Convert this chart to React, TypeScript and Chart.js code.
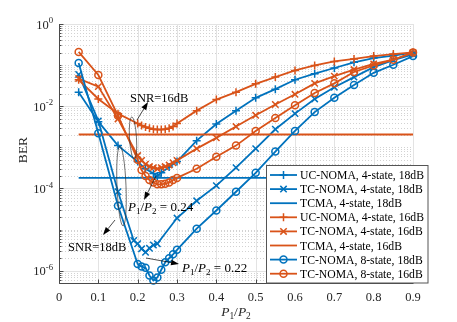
import React, { useEffect, useRef } from 'react';
import { Chart, registerables } from 'chart.js';

Chart.register(...registerables);

// ---------------- data ----------------
const xTickValues = [0, 0.1, 0.2, 0.3, 0.4, 0.5, 0.6, 0.7, 0.8, 0.9];
const yLabelExponents = [0, -2, -4, -6];

const xUC18 = [0.05, 0.1, 0.15, 0.2, 0.22, 0.24, 0.25, 0.26, 0.28, 0.3, 0.35, 0.4, 0.45, 0.5, 0.55, 0.6, 0.65, 0.7, 0.75, 0.8, 0.85, 0.9];
const berUC18 = [2.2e-2, 4.2e-3, 1.1e-3, 4.5e-4, 3.0e-4, 2.3e-4, 2.0e-4, 2.4e-4, 3.3e-4, 4.5e-4, 1.45e-3, 3.7e-3, 7.8e-3, 1.6e-2, 2.6e-2, 4.4e-2, 6.2e-2, 8.5e-2, 0.117, 0.148, 0.17, 0.2];

const xTC18 = [0.05, 0.1, 0.15, 0.19, 0.2, 0.21, 0.22, 0.23, 0.24, 0.25, 0.3, 0.35, 0.4, 0.45, 0.5, 0.55, 0.6, 0.65, 0.7, 0.75, 0.8, 0.85, 0.9];
const berTC18 = [5.9e-2, 4.4e-3, 8.3e-5, 5.4e-6, 4.5e-6, 3.4e-6, 2.8e-6, 3.5e-6, 4.2e-6, 4.5e-6, 1.9e-5, 5.0e-5, 1.17e-4, 3.2e-4, 9.3e-4, 2.75e-3, 6.6e-3, 1.5e-2, 2.9e-2, 5.1e-2, 8.9e-2, 0.132, 0.182];

const xTCMA = [0.05, 0.9];
const berTCMA18 = [1.8e-4, 1.8e-4];
const berTCMA16 = [2.05e-3, 2.05e-3];

const x16 = [0.05, 0.1, 0.15, 0.2, 0.21, 0.22, 0.23, 0.24, 0.25, 0.26, 0.27, 0.28, 0.29, 0.3, 0.35, 0.4, 0.45, 0.5, 0.55, 0.6, 0.65, 0.7, 0.75, 0.8, 0.85, 0.9];
const berUC16 = [4.4e-2, 1.5e-2, 6.6e-3, 3.8e-3, 3.4e-3, 3.1e-3, 2.9e-3, 2.75e-3, 2.7e-3, 2.7e-3, 2.75e-3, 2.9e-3, 3.2e-3, 3.8e-3, 7.8e-3, 1.45e-2, 2.2e-2, 3.5e-2, 5.1e-2, 7.4e-2, 9.8e-2, 0.123, 0.141, 0.166, 0.186, 0.204];
const berTC16 = [4.7e-2, 3.0e-2, 4.9e-3, 6.3e-4, 4.8e-4, 3.9e-4, 3.4e-4, 3.2e-4, 3.0e-4, 3.2e-4, 3.4e-4, 3.7e-4, 4.2e-4, 4.8e-4, 9.3e-4, 1.7e-3, 3.2e-3, 6.0e-3, 1.1e-2, 1.95e-2, 3.6e-2, 5.4e-2, 7.8e-2, 0.107, 0.135, 0.2];
const berTC8s16 = [0.209, 5.75e-2, 5.9e-3, 5.0e-4, 2.8e-4, 2.0e-4, 1.6e-4, 1.4e-4, 1.26e-4, 1.26e-4, 1.3e-4, 1.4e-4, 1.6e-4, 1.8e-4, 3.0e-4, 5.9e-4, 1.1e-3, 2.5e-3, 5.2e-3, 1.05e-2, 2.1e-2, 3.6e-2, 6.8e-2, 9.8e-2, 0.135, 0.204];

const x8s18 = [0.05, 0.1, 0.15, 0.2, 0.21, 0.22, 0.23, 0.24, 0.25, 0.26, 0.27, 0.28, 0.29, 0.3, 0.35, 0.4, 0.45, 0.5, 0.55, 0.6, 0.65, 0.7, 0.75, 0.8, 0.85, 0.9];
const berTC8s18 = [0.112, 2.2e-3, 3.8e-5, 1.45e-6, 1.26e-6, 1.17e-6, 7.6e-7, 5.75e-7, 6.8e-7, 1.05e-6, 1.6e-6, 2.0e-6, 2.5e-6, 3.2e-6, 1.05e-5, 2.9e-5, 8.3e-5, 2.4e-4, 7.9e-4, 2.5e-3, 7.2e-3, 1.6e-2, 3.3e-2, 6.5e-2, 0.102, 0.166];

const seriesLabels = [
  'UC-NOMA, 4-state, 18dB',
  'TC-NOMA, 4-state, 18dB',
  'TCMA, 4-state, 18dB',
  'UC-NOMA, 4-state, 16dB',
  'TC-NOMA, 4-state, 16dB',
  'TCMA, 4-state, 16dB',
  'TC-NOMA, 8-state, 18dB',
  'TC-NOMA, 8-state, 16dB',
];

// ---------------- styling ----------------
const BLUE = '#0072BD';
const ORANGE = '#D95319';
const FONT = '"Liberation Serif", "Times New Roman", Times, serif';
const TEXT = '#262626';
const Y_MIN = 5e-7;
const Y_MAX = 1;

type Part = { t: string; italic?: boolean; sub?: boolean; sup?: boolean };

function drawParts(ctx: CanvasRenderingContext2D, parts: Part[], x: number, y: number, size: number, align: 'left' | 'center' | 'right', color = TEXT) {
  const items = parts.map((p) => {
    const fs = p.sub || p.sup ? size * 0.7 : size;
    const font = `${p.italic ? 'italic ' : ''}${fs}px ${FONT}`;
    ctx.font = font;
    return { ...p, font, w: ctx.measureText(p.t).width };
  });
  const total = items.reduce((s, i) => s + i.w, 0);
  let cx = align === 'center' ? x - total / 2 : align === 'right' ? x - total : x;
  ctx.save();
  ctx.fillStyle = color;
  ctx.textAlign = 'left';
  ctx.textBaseline = 'alphabetic';
  for (const it of items) {
    ctx.font = it.font;
    const dy = it.sub ? size * 0.25 : it.sup ? -size * 0.42 : 0;
    ctx.fillText(it.t, cx, y + dy);
    cx += it.w;
  }
  ctx.restore();
}

function drawMarker(ctx: CanvasRenderingContext2D, style: string, x: number, y: number, color: string) {
  ctx.save();
  ctx.strokeStyle = color;
  ctx.lineWidth = 1.5;
  ctx.beginPath();
  if (style === 'cross') {
    ctx.moveTo(x - 4, y); ctx.lineTo(x + 4, y);
    ctx.moveTo(x, y - 4); ctx.lineTo(x, y + 4);
  } else if (style === 'crossRot') {
    const r = 3.2;
    ctx.moveTo(x - r, y - r); ctx.lineTo(x + r, y + r);
    ctx.moveTo(x - r, y + r); ctx.lineTo(x + r, y - r);
  } else if (style === 'circle') {
    ctx.arc(x, y, 3.5, 0, Math.PI * 2);
  }
  ctx.stroke();
  ctx.restore();
}

function arrow(ctx: CanvasRenderingContext2D, x1: number, y1: number, x2: number, y2: number) {
  const ang = Math.atan2(y2 - y1, x2 - x1);
  const L = 8, W = 2.8;
  const bx = x2 - L * Math.cos(ang), by = y2 - L * Math.sin(ang);
  ctx.save();
  ctx.strokeStyle = '#000';
  ctx.fillStyle = '#000';
  ctx.lineWidth = 0.7;
  ctx.beginPath();
  ctx.moveTo(x1, y1); ctx.lineTo(bx, by);
  ctx.stroke();
  ctx.beginPath();
  ctx.moveTo(x2, y2);
  ctx.lineTo(bx - W * Math.sin(ang), by + W * Math.cos(ang));
  ctx.lineTo(bx + W * Math.sin(ang), by - W * Math.cos(ang));
  ctx.closePath();
  ctx.fill();
  ctx.restore();
}

function ellipse(ctx: CanvasRenderingContext2D, cx: number, cy: number, rx: number, ry: number, rot: number) {
  ctx.save();
  ctx.strokeStyle = '#333';
  ctx.lineWidth = 0.7;
  ctx.beginPath();
  ctx.ellipse(cx, cy, rx, ry, rot, 0, Math.PI * 2);
  ctx.stroke();
  ctx.restore();
}

const ratioParts = (rest: string): Part[] => [
  { t: 'P', italic: true }, { t: '1', sub: true }, { t: '/' }, { t: 'P', italic: true }, { t: '2', sub: true }, { t: rest },
];

const decorPlugin = {
  id: 'decor',
  beforeDatasetsDraw(chart: any) {
    const ctx: CanvasRenderingContext2D = chart.ctx;
    const { left, right, top, bottom } = chart.chartArea;
    const xs = chart.scales.x, ys = chart.scales.y;
    ctx.save();
    // horizontal grid
    for (let n = -7; n <= 0; n++) {
      for (let k = 1; k <= 9; k++) {
        const v = k * Math.pow(10, n);
        if (v < Y_MIN * 0.999 || v > Y_MAX * 1.001) continue;
        const p = Math.round(ys.getPixelForValue(v)) + 0.5;
        const major = k === 1 && n % 2 === 0;
        ctx.beginPath();
        ctx.strokeStyle = major ? '#e3e3e3' : '#d2d2d2';
        ctx.lineWidth = 1;
        ctx.setLineDash(major ? [] : [1, 2]);
        ctx.moveTo(left, p); ctx.lineTo(right, p);
        ctx.stroke();
      }
    }
    ctx.setLineDash([]);
    // vertical grid
    for (const v of xTickValues) {
      const p = Math.round(xs.getPixelForValue(v)) + 0.5;
      ctx.beginPath();
      ctx.strokeStyle = '#e3e3e3';
      ctx.moveTo(p, top); ctx.lineTo(p, bottom);
      ctx.stroke();
    }
    ctx.restore();
  },
  afterDatasetsDraw(chart: any) {
    const ctx: CanvasRenderingContext2D = chart.ctx;
    const { left, right, top, bottom } = chart.chartArea;
    const xs = chart.scales.x, ys = chart.scales.y;
    const L = Math.round(left) + 0.5, B = Math.round(bottom) + 0.5;
    ctx.save();
    // axes
    ctx.strokeStyle = '#4a4a4a';
    ctx.lineWidth = 1;
    ctx.beginPath();
    ctx.moveTo(L, top); ctx.lineTo(L, B); ctx.lineTo(right, B);
    ctx.stroke();
    // y ticks
    for (let n = -7; n <= 0; n++) {
      for (let k = 1; k <= 9; k++) {
        const v = k * Math.pow(10, n);
        if (v < Y_MIN * 0.999 || v > Y_MAX * 1.001) continue;
        const p = Math.round(ys.getPixelForValue(v)) + 0.5;
        const major = k === 1 && n % 2 === 0;
        ctx.beginPath();
        ctx.moveTo(L, p); ctx.lineTo(L + (major ? 4 : 2), p);
        ctx.stroke();
      }
    }
    // x ticks
    for (const v of xTickValues) {
      const p = Math.round(xs.getPixelForValue(v)) + 0.5;
      ctx.beginPath();
      ctx.moveTo(p, B); ctx.lineTo(p, B - 4);
      ctx.stroke();
    }
    ctx.restore();

    // tick labels
    for (const v of xTickValues) {
      const p = xs.getPixelForValue(v);
      drawParts(ctx, [{ t: v === 0 ? '0' : v.toFixed(1) }], p, 301, 12.5, 'center');
    }
    for (const e of yLabelExponents) {
      const p = ys.getPixelForValue(Math.pow(10, e));
      drawParts(ctx, [{ t: '10' }, { t: e === 0 ? '0' : '-' + String(-e), sup: true }], 53, p + 4.5, 12.5, 'right');
    }

    // axis titles
    drawParts(ctx, ratioParts(''), 236, 316, 13.5, 'center');
    ctx.save();
    ctx.translate(22, 150);
    ctx.rotate(-Math.PI / 2);
    drawParts(ctx, [{ t: 'BER' }], 0, 4.5, 13.5, 'center');
    ctx.restore();

    // annotations
    ellipse(ctx, 133, 138, 3.5, 21, -0.06);
    arrow(ctx, 137, 120, 148, 102);
    drawParts(ctx, [{ t: 'SNR=16dB' }], 130, 102, 12.5, 'left', '#000');

    ellipse(ctx, 121.5, 186, 4.5, 40, -0.04);
    arrow(ctx, 115, 220, 103, 235);
    drawParts(ctx, [{ t: 'SNR=18dB' }], 68, 251, 12.5, 'left', '#000');

    arrow(ctx, 156, 176, 144, 200);
    drawParts(ctx, ratioParts(' = 0.24'), 128, 211, 13, 'left', '#000');

    arrow(ctx, 146, 258, 179, 264);
    drawParts(ctx, ratioParts(' = 0.22'), 182, 272, 13, 'left', '#000');

    // legend
    const lx = 266.5, ly = 165.5, lw = 161.5, lh = 117.5;
    ctx.save();
    ctx.fillStyle = '#fff';
    ctx.fillRect(lx, ly, lw, lh);
    ctx.strokeStyle = '#555';
    ctx.lineWidth = 1;
    ctx.strokeRect(lx, ly, lw, lh);
    ctx.restore();
    chart.data.datasets.forEach((ds: any, i: number) => {
      const cy = 175 + i * 14.1;
      ctx.save();
      ctx.strokeStyle = ds.borderColor;
      ctx.lineWidth = ds.borderWidth;
      ctx.beginPath();
      ctx.moveTo(270, cy); ctx.lineTo(297, cy);
      ctx.stroke();
      ctx.restore();
      if (ds.pointRadius > 0) drawMarker(ctx, ds.pointStyle, 283.5, cy, ds.borderColor);
      drawParts(ctx, [{ t: ds.label }], 300, cy + 4, 11.7, 'left', '#000');
    });
  },
};

function mk(label: string, xs: number[], ys: number[], color: string, style: string | false, idx: number) {
  return {
    label,
    data: xs.map((x, i) => ({ x, y: ys[i] })),
    borderColor: color,
    backgroundColor: color,
    borderWidth: 1.8,
    pointStyle: style || 'circle',
    pointRadius: style === false ? 0 : style === 'circle' ? 3.5 : style === 'crossRot' ? 4.5 : 4,
    pointHoverRadius: 0,
    pointBorderColor: color,
    pointBackgroundColor: 'rgba(0,0,0,0)',
    pointBorderWidth: 1.5,
    fill: false,
    tension: 0,
    clip: false as any,
    order: 10 - idx,
  };
}

export default function App() {
  const ref = useRef<HTMLCanvasElement>(null);
  useEffect(() => {
    const chart = new Chart(ref.current as HTMLCanvasElement, {
      type: 'line',
      data: {
        datasets: [
          mk(seriesLabels[0], xUC18, berUC18, BLUE, 'cross', 0),
          mk(seriesLabels[1], xTC18, berTC18, BLUE, 'crossRot', 1),
          mk(seriesLabels[2], xTCMA, berTCMA18, BLUE, false, 2),
          mk(seriesLabels[3], x16, berUC16, ORANGE, 'cross', 3),
          mk(seriesLabels[4], x16, berTC16, ORANGE, 'crossRot', 4),
          mk(seriesLabels[5], xTCMA, berTCMA16, ORANGE, false, 5),
          mk(seriesLabels[6], x8s18, berTC8s18, BLUE, 'circle', 6),
          mk(seriesLabels[7], x16, berTC8s16, ORANGE, 'circle', 7),
        ] as any,
      },
      options: {
        responsive: false,
        animation: false,
        devicePixelRatio: 1,
        layout: { padding: { left: 0, right: 44, top: 24, bottom: 0 } },
        plugins: { legend: { display: false }, tooltip: { enabled: false } },
        events: [],
        scales: {
          x: {
            type: 'linear', min: 0, max: 0.9,
            grid: { display: false }, border: { display: false }, ticks: { display: false },
            afterFit: (s: any) => { s.height = 39; },
          },
          y: {
            type: 'logarithmic', min: Y_MIN, max: Y_MAX,
            grid: { display: false }, border: { display: false }, ticks: { display: false },
            afterFit: (s: any) => { s.width = 59; },
          },
        },
      } as any,
      plugins: [decorPlugin],
    });
    return () => chart.destroy();
  }, []);
  return (
    <div style={{ position: 'fixed', left: 0, top: 0, width: 457, height: 322, background: '#fff' }}>
      <canvas ref={ref} width={457} height={322} style={{ width: 457, height: 322, display: 'block' }} />
    </div>
  );
}
